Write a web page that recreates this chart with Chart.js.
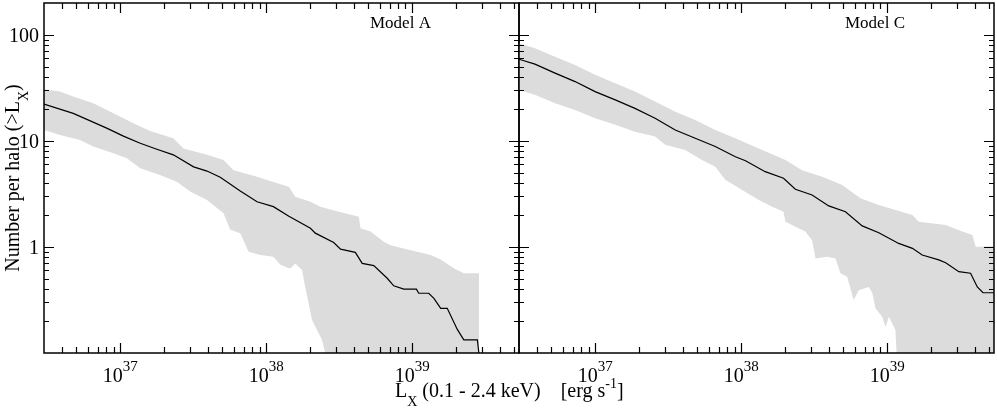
<!DOCTYPE html>
<html>
<head>
<meta charset="utf-8">
<script src="https://cdn.jsdelivr.net/npm/chart.js@4.4.1/dist/chart.umd.min.js"></script>
<style>
  html, body { margin: 0; padding: 0; background: #fff; }
  #wrap { position: relative; width: 997px; height: 409px; }
  #wrap canvas { position: absolute; left: 0; top: 0; }
</style>
</head>
<body>
<div id="wrap">
  <canvas id="panelA" width="997" height="409"></canvas>
  <canvas id="panelC" width="997" height="409"></canvas>
</div>
<script>
// === DATA === //

const lumMin = 3.0e36
const lumMax = 5.4e39
const countMin = 0.1
const countMax = 200
const xTickExponents = [37, 38, 39]
const yTickLabels = [1, 10, 100]

// Model A : median and spread of the cumulative count
const modelAMedianL = [3.0e36, 4.76e36, 8.07e36, 1.05e37, 1.37e37, 1.78e37, 2.31e37, 3.18e37, 3.93e37, 4.84e37, 6.64e37, 8.65e37, 1.12e38, 1.43e38, 2.01e38, 2.17e38, 2.90e38, 3.23e38, 4.08e38, 4.55e38, 5.46e38, 6.75e38, 7.48e38, 8.77e38, 1.07e39, 1.11e39, 1.30e39, 1.41e39, 1.57e39, 1.74e39, 2.04e39, 2.26e39, 2.80e39, 2.92e39]
const modelAMedianN = [22.3, 18.2, 13.2, 11.1, 9.5, 8.35, 7.4, 5.7, 5.2, 4.54, 3.37, 2.67, 2.4, 1.95, 1.5, 1.35, 1.1, 0.955, 0.89, 0.70, 0.667, 0.507, 0.43, 0.40, 0.40, 0.366, 0.366, 0.328, 0.264, 0.264, 0.167, 0.133, 0.133, 0.08]

const modelAUpperL = [3.0e36, 3.86e36, 4.76e36, 6.53e36, 8.97e36, 1.23e37, 1.60e37, 2.31e37, 2.71e37, 3.93e37, 5.10e37, 5.97e37, 8.65e37, 1.19e38, 1.43e38, 1.58e38, 2.01e38, 2.35e38, 3.14e38, 4.31e38, 4.43e38, 5.19e38, 6.40e38, 7.11e38, 1.08e39, 1.34e39, 1.57e39, 1.93e39, 2.26e39, 2.87e39]
const modelAUpperN = [30.8, 29.2, 26.2, 22.7, 18.2, 14.7, 12.4, 10.6, 8.5, 7.4, 6.6, 5.3, 4.6, 4.0, 3.7, 2.98, 2.67, 2.4, 2.15, 1.93, 1.5, 1.4, 1.12, 1.04, 0.90, 0.84, 0.76, 0.63, 0.565, 0.565]

const modelALowerL = [3.0e36, 3.86e36, 5.30e36, 6.53e36, 8.97e36, 1.11e37, 1.37e37, 1.87e37, 2.44e37, 3.01e37, 3.93e37, 5.10e37, 5.67e37, 6.64e37, 7.57e37, 9.12e37, 1.12e38, 1.25e38, 1.43e38, 1.47e38, 1.58e38, 1.76e38, 1.85e38, 2.06e38, 2.41e38, 2.64e38, 2.87e39]
const modelALowerN = [12.7, 11.4, 10.2, 8.85, 7.66, 6.87, 5.52, 4.78, 4.13, 3.33, 2.77, 2.08, 1.45, 1.35, 0.90, 0.84, 0.81, 0.68, 0.63, 0.63, 0.70, 0.607, 0.42, 0.205, 0.133, 0.08, 0.01]

// Model C
const modelCMedianL = [3.0e36, 3.86e36, 5.30e36, 7.27e36, 9.97e36, 1.37e37, 1.87e37, 2.57e37, 3.53e37, 4.84e37, 6.64e37, 9.12e37, 1.07e38, 1.46e38, 1.95e38, 2.35e38, 3.06e38, 3.98e38, 5.18e38, 6.75e38, 8.77e38, 1.20e39, 1.49e39, 1.74e39, 2.26e39, 2.52e39, 3.10e39, 3.73e39, 4.15e39, 4.54e39, 5.4e39]
const modelCMedianN = [59, 53, 43.6, 36.3, 29.2, 24.4, 20.3, 16.4, 12.7, 10.6, 8.85, 7.1, 6.5, 5.13, 4.45, 3.5, 3.09, 2.44, 2.15, 1.58, 1.36, 1.08, 0.97, 0.84, 0.755, 0.71, 0.585, 0.565, 0.42, 0.37, 0.37]

const modelCUpperL = [3.0e36, 3.86e36, 5.30e36, 7.27e36, 9.97e36, 1.37e37, 1.87e37, 2.57e37, 3.53e37, 4.84e37, 6.64e37, 9.12e37, 1.07e38, 1.32e38, 2.01e38, 2.61e38, 3.59e38, 4.92e38, 6.56e38, 8.77e38, 1.14e39, 1.49e39, 1.65e39, 2.52e39, 3.27e39, 3.84e39, 4.05e39, 5.4e39]
const modelCUpperN = [83.6, 75, 62.4, 52, 42, 35, 29.2, 23.5, 18.9, 15.8, 12.7, 10.6, 9.6, 8.5, 6.6, 5.3, 4.6, 3.85, 2.88, 2.49, 2.23, 2.0, 1.73, 1.61, 1.4, 1.3, 1.0, 1.02]

const modelCLowerL = [3.0e36, 3.86e36, 5.30e36, 7.27e36, 9.97e36, 1.37e37, 1.87e37, 2.57e37, 3.01e37, 4.13e37, 5.38e37, 6.64e37, 7.78e37, 1.07e38, 1.32e38, 1.63e38, 1.95e38, 2.01e38, 2.75e38, 3.06e38, 3.23e38, 3.88e38, 4.43e38, 4.79e38, 5.32e38, 5.90e38, 6.40e38, 7.48e38, 7.91e38, 8.32e38, 9.25e38, 9.75e38, 1.03e39, 1.14e39, 1.17e39, 5.4e39]
const modelCLowerN = [30.3, 27.2, 22.7, 19.6, 16.4, 14.2, 12.2, 11.0, 9.2, 8.2, 6.6, 5.7, 4.3, 3.3, 2.77, 2.4, 2.15, 1.73, 1.4, 1.16, 0.78, 0.81, 0.78, 0.565, 0.525, 0.316, 0.39, 0.42, 0.37, 0.264, 0.22, 0.177, 0.22, 0.165, 0.08, 0.01]

// === DRAWING === //

const serif = '"Liberation Serif", "Times New Roman", serif'
const bandColor = '#dcdcdc'

function toPoints(xs, ys) {
  return xs.map((x, i) => ({ x: x, y: ys[i] }))
}

// draws a run of [text, size, baselineShift] pieces starting at x
function drawPieces(ctx, pieces, x, y) {
  pieces.forEach(p => {
    ctx.font = p[1] + 'px ' + serif
    ctx.fillText(p[0], x, y + p[2])
    x += ctx.measureText(p[0]).width
  })
}

function piecesWidth(ctx, pieces) {
  var w = 0
  pieces.forEach(p => {
    ctx.font = p[1] + 'px ' + serif
    w += ctx.measureText(p[0]).width
  })
  return w
}

const framePlugin = {
  id: 'frame',
  afterDatasetsDraw(chart, args, opts) {
    const { ctx, chartArea: a } = chart
    const x = chart.scales.x
    const y = chart.scales.y
    ctx.save()
    ctx.strokeStyle = '#000'
    ctx.lineWidth = 1.5
    ctx.strokeRect(a.left, a.top, a.right - a.left, a.bottom - a.top)

    // inward ticks on all four sides
    ctx.lineWidth = 1.2
    ctx.beginPath()
    for (let e = 36; e <= 39; e++) {
      for (let k = 1; k <= 9; k++) {
        const v = k * Math.pow(10, e)
        if (v < x.min * 1.001 || v > x.max * 0.999) continue
        const px = Math.round(x.getPixelForValue(v)) + 0.5
        const len = k === 1 ? 10 : 6
        ctx.moveTo(px, a.bottom); ctx.lineTo(px, a.bottom - len)
        ctx.moveTo(px, a.top); ctx.lineTo(px, a.top + len)
      }
    }
    for (let e = -1; e <= 2; e++) {
      for (let k = 1; k <= 9; k++) {
        const v = k * Math.pow(10, e)
        if (v < y.min * 1.001 || v > y.max * 0.999) continue
        const py = Math.round(y.getPixelForValue(v)) + 0.5
        const len = k === 1 ? 10 : 5
        ctx.moveTo(a.left, py); ctx.lineTo(a.left + len, py)
        ctx.moveTo(a.right, py); ctx.lineTo(a.right - len, py)
      }
    }
    ctx.stroke()

    ctx.fillStyle = '#000'
    ctx.textBaseline = 'alphabetic'
    ctx.textAlign = 'left'

    // x tick labels, 10 with a raised exponent
    xTickExponents.forEach(ex => {
      const px = x.getPixelForValue(Math.pow(10, ex))
      const pieces = [['10', 20, 0], [String(ex), 15, -11]]
      drawPieces(ctx, pieces, px - piecesWidth(ctx, pieces) / 2, a.bottom + 29)
    })

    if (opts.yLabels) {
      ctx.textAlign = 'right'
      ctx.font = '20px ' + serif
      yTickLabels.forEach(v => {
        ctx.fillText(String(v), a.left - 5, y.getPixelForValue(v) + 7)
      })
      ctx.textAlign = 'left'
    }

    // panel label
    ctx.font = '17px ' + serif
    ctx.fillText(opts.model, a.right - 149, a.top + 25)

    if (opts.titles) {
      const xTitle = [['L', 20, 0], ['X', 14, 9], [' (0.1 - 2.4 keV)    [erg s', 20, 0], ['-1', 14, -9], [']', 20, 0]]
      drawPieces(ctx, xTitle, 395, 397)

      const yTitle = [['Number per halo (>L', 20, 0], ['X', 14, 9], [')', 20, 0]]
      ctx.save()
      ctx.translate(18.5, (a.top + a.bottom) / 2)
      ctx.rotate(-Math.PI / 2)
      drawPieces(ctx, yTitle, -piecesWidth(ctx, yTitle) / 2, 0)
      ctx.restore()
    }
    ctx.restore()
  }
}

function makePanel(canvasId, padding, model, medL, medN, upL, upN, loL, loN, showYLabels, showTitles) {
  return new Chart(document.getElementById(canvasId), {
    type: 'line',
    data: {
      datasets: [{
        label: 'median',
        data: toPoints(medL, medN),
        borderColor: '#000',
        borderWidth: 1.2,
        pointRadius: 0,
        fill: false,
        order: 0
      }, {
        label: 'upper',
        data: toPoints(upL, upN),
        borderColor: 'rgba(0,0,0,0)',
        borderWidth: 0,
        pointRadius: 0,
        backgroundColor: bandColor,
        fill: '+1',
        order: 1
      }, {
        label: 'lower',
        data: toPoints(loL, loN),
        borderColor: 'rgba(0,0,0,0)',
        borderWidth: 0,
        pointRadius: 0,
        fill: false,
        order: 2
      }]
    },
    options: {
      responsive: false,
      animation: false,
      events: [],
      layout: { padding: padding },
      scales: {
        x: { type: 'logarithmic', min: lumMin, max: lumMax, bounds: 'data', display: false },
        y: { type: 'logarithmic', min: countMin, max: countMax, bounds: 'data', display: false }
      },
      plugins: {
        legend: { display: false },
        tooltip: { enabled: false },
        frame: { model: model, yLabels: showYLabels, titles: showTitles }
      }
    },
    plugins: [framePlugin]
  })
}

makePanel('panelA', { left: 44, right: 478, top: 3, bottom: 56 }, 'Model A',
  modelAMedianL, modelAMedianN, modelAUpperL, modelAUpperN, modelALowerL, modelALowerN, true, true)

makePanel('panelC', { left: 519, right: 3, top: 3, bottom: 56 }, 'Model C',
  modelCMedianL, modelCMedianN, modelCUpperL, modelCUpperN, modelCLowerL, modelCLowerN, false, false)
</script>
</body>
</html>
